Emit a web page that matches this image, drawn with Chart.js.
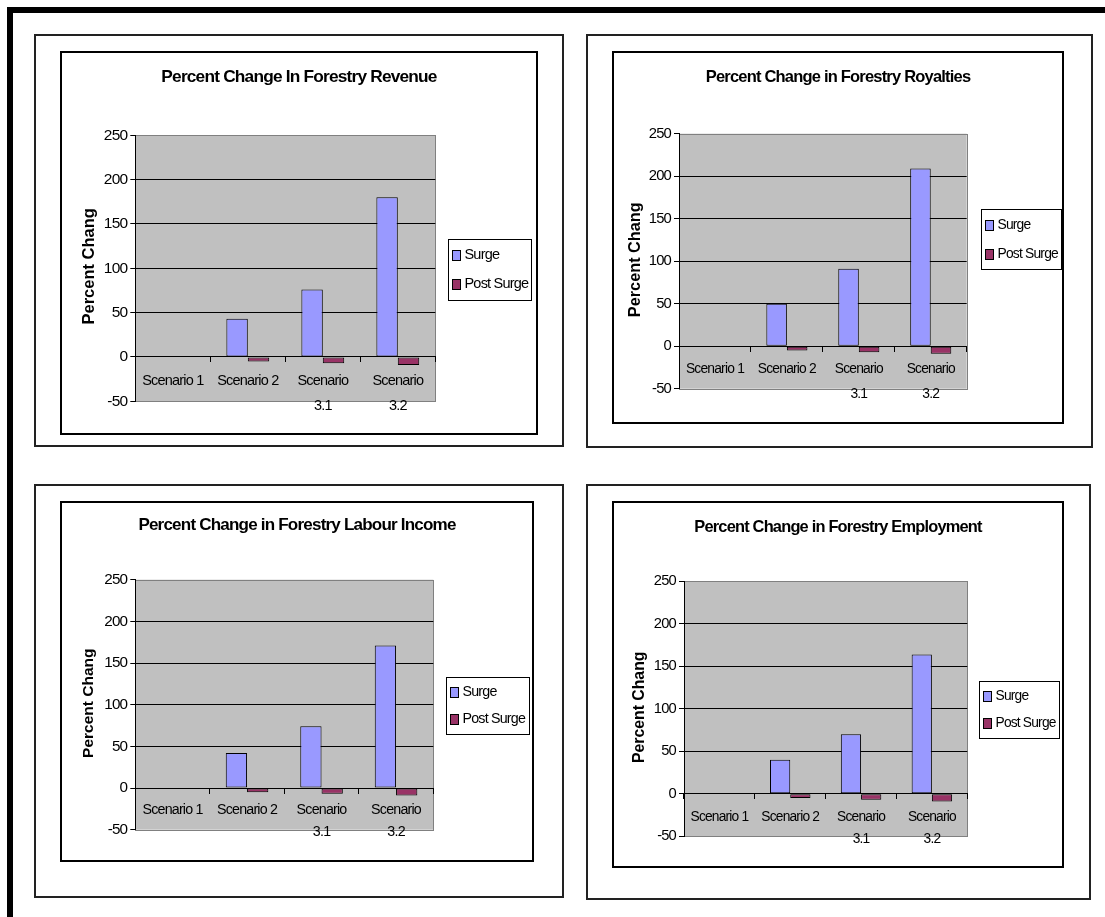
<!DOCTYPE html>
<html>
<head>
<meta charset="utf-8">
<title>Percent Change in Forestry</title>
<script src="https://cdn.jsdelivr.net/npm/chart.js@4.4.0/dist/chart.umd.min.js"></script>
<style>
  html, body { margin: 0; padding: 0; background: #fff; }
  body { width: 1105px; height: 917px; position: relative; overflow: hidden; }
  #frame { position: absolute; left: 7px; top: 7px; width: 1200px; height: 1000px;
           border-top: 6px solid #000; border-left: 6px solid #000; }
  .panel { position: absolute; border: 2px solid #222; }
  .inner { position: absolute; border: 2px solid #000; background: #fff; }
  canvas { display: block; }
</style>
</head>
<body>
<div id="frame"></div>

<div class="panel" style="left:34px;top:34px;width:526px;height:409px"></div>
<div class="panel" style="left:586px;top:34px;width:503px;height:410px"></div>
<div class="panel" style="left:34px;top:484px;width:526px;height:410px"></div>
<div class="panel" style="left:586px;top:484px;width:501px;height:412px"></div>

<div class="inner" style="left:60px;top:51px;width:474px;height:380px"><canvas id="revenueChart" width="474" height="380"></canvas></div>
<div class="inner" style="left:612px;top:51px;width:448px;height:369px"><canvas id="royaltiesChart" width="448" height="369"></canvas></div>
<div class="inner" style="left:60px;top:501px;width:470px;height:357px"><canvas id="labourChart" width="470" height="357"></canvas></div>
<div class="inner" style="left:612px;top:501px;width:448px;height:363px"><canvas id="employmentChart" width="448" height="363"></canvas></div>

<script>
// データ
const categories = ['Scenario 1', 'Scenario 2', ['Scenario', '3.1'], ['Scenario', '3.2']];
const seriesNames = ['Surge', 'Post Surge'];
const yTicks = [-50, 0, 50, 100, 150, 200, 250];
const yTitleText = 'Percent Chang';

const revenueSurge = [0, 43, 76, 180];
const revenuePost = [0, -5, -7, -9];
const royaltiesSurge = [0, 50, 91, 209];
const royaltiesPost = [0, -5, -7, -9];
const labourSurge = [0, 42, 74, 171];
const labourPost = [0, -5, -7, -9];
const employmentSurge = [0, 40, 70, 164];
const employmentPost = [0, -5, -7, -9];

const surgeColor = '#9999FF';
const postColor = '#993366';
const FONT = "'Liberation Sans', Arial, Helvetica, sans-serif";

Chart.defaults.font.family = FONT;
Chart.defaults.color = '#000';

// 詰めた文字間隔（元画像のExcel風）
const tightText = {
    id: 'tightText',
    beforeUpdate(chart) { chart.ctx.letterSpacing = '-0.8px'; },
    beforeDraw(chart) { chart.ctx.letterSpacing = '-0.8px'; }
};

// タイトルはキャンバス全幅の中央に置く（右の余白は凡例用）
const centerTitle = {
    id: 'centerTitle',
    afterLayout(chart) {
        const t = chart.titleBlock;
        if (t) {
            t.left = 0;
            t.right = chart.width;
            t.width = chart.width;
        }
    }
};

// プロットエリアの灰色背景と枠
const plotFrame = {
    id: 'plotFrame',
    beforeDraw(chart) {
        const { ctx, chartArea: a } = chart;
        ctx.save();
        ctx.fillStyle = '#C0C0C0';
        ctx.fillRect(a.left, a.top, a.right - a.left, a.bottom - a.top);
        ctx.strokeStyle = '#808080';
        ctx.lineWidth = 1;
        ctx.strokeRect(Math.round(a.left) + 0.5, Math.round(a.top) + 0.5,
            Math.round(a.right - a.left), Math.round(a.bottom - a.top));
        ctx.restore();
    }
};

// 枠付き凡例
const boxLegend = {
    id: 'boxLegend',
    afterDraw(chart, args, o) {
        const { ctx, chartArea: a } = chart;
        const left = Math.round(a.right + o.dx);
        const top = Math.round((a.top + a.bottom) / 2 + o.dy - o.h / 2);
        ctx.save();
        ctx.fillStyle = '#fff';
        ctx.fillRect(left, top, o.w, o.h);
        ctx.strokeStyle = '#000';
        ctx.lineWidth = 1;
        ctx.strokeRect(left + 0.5, top + 0.5, o.w, o.h);
        ctx.font = o.size + 'px ' + FONT;
        ctx.letterSpacing = '-0.8px';
        ctx.textBaseline = 'middle';
        chart.data.datasets.forEach((ds, i) => {
            const cy = top + o.h * (i === 0 ? 0.27 : 0.745);
            ctx.fillStyle = ds.backgroundColor;
            ctx.fillRect(left + 4.5, Math.round(cy - 5), 8, 10);
            ctx.strokeStyle = '#000';
            ctx.strokeRect(left + 4.5, Math.round(cy - 5) + 0.5, 8, 10);
            ctx.fillStyle = '#000';
            ctx.fillText(ds.label, left + 16.5, cy);
        });
        ctx.restore();
    }
};

// 縦軸タイトル（途中で切れている）
const yTitle = {
    id: 'yTitle',
    afterDraw(chart, args, o) {
        const { ctx, chartArea: a } = chart;
        ctx.save();
        ctx.letterSpacing = '0px';
        ctx.translate(a.left - o.gap, (a.top + a.bottom) / 2 + o.dy);
        ctx.rotate(-Math.PI / 2);
        ctx.font = 'bold ' + o.size + 'px ' + FONT;
        ctx.fillStyle = '#000';
        ctx.textAlign = 'center';
        ctx.textBaseline = 'alphabetic';
        ctx.fillText(yTitleText, 0, 0);
        ctx.restore();
    }
};

const panels = [
    { id: 'revenueChart', title: 'Percent Change In Forestry Revenue', surge: revenueSurge, post: revenuePost,
      w: 474, h: 380, plot: [73.3, 82.3, 373.3, 348.3], titleY: 24, titleSize: 17.3, k: 1.0,
      xPad: 6.35, xLine: 25.3, legend: { dx: 13, dy: 0.9, w: 83, h: 61 }, yt: { gap: 41.3, dy: -2, size: 16.5 } },
    { id: 'royaltiesChart', title: 'Percent Change in Forestry Royalties', surge: royaltiesSurge, post: royaltiesPost,
      w: 448, h: 369, plot: [65, 80.7, 352.7, 335.7], titleY: 24.3, titleSize: 16.5, k: 0.955,
      xPad: 5.9, xLine: 25, legend: { dx: 14.3, dy: -22.5, w: 80, h: 60 }, yt: { gap: 38.7, dy: -1.5, size: 16.3 } },
    { id: 'labourChart', title: 'Percent Change in Forestry Labour Income', surge: labourSurge, post: labourPost,
      w: 470, h: 357, plot: [73.3, 76.7, 371.3, 326.7], titleY: 22.7, titleSize: 17.05, k: 0.985,
      xPad: 6.3, xLine: 22, legend: { dx: 12.4, dy: 1, w: 83, h: 57 }, yt: { gap: 42, dy: -1.5, size: 15.5 } },
    { id: 'employmentChart', title: 'Percent Change in Forestry Employment', surge: employmentSurge, post: employmentPost,
      w: 448, h: 363, plot: [70, 78.3, 353.3, 333.3], titleY: 24, titleSize: 16.4, k: 0.95,
      xPad: 7.45, xLine: 21.7, legend: { dx: 12, dy: 0.5, w: 80, h: 57 }, yt: { gap: 39.7, dy: -1.5, size: 15.8 } }
];

panels.forEach(p => {
    const [pl, pt, pr, pb] = p.plot;
    const lh = p.titleSize * 1.2;
    new Chart(document.getElementById(p.id), {
        type: 'bar',
        data: {
            labels: categories,
            datasets: [
                { label: seriesNames[0], data: p.surge, backgroundColor: surgeColor },
                { label: seriesNames[1], data: p.post, backgroundColor: postColor }
            ]
        },
        options: {
            responsive: false,
            animation: false,
            events: [],
            datasets: {
                bar: {
                    borderColor: '#000',
                    borderWidth: 1,
                    borderSkipped: false,
                    barPercentage: 1,
                    categoryPercentage: 0.5714
                }
            },
            layout: { padding: { top: 0, left: 0, right: p.w - pr, bottom: p.h - pb } },
            scales: {
                x: {
                    type: 'category',
                    position: { y: 0 },
                    offset: true,
                    grid: { offset: true, drawOnChartArea: false, drawTicks: true, tickLength: 5,
                            color: '#000', tickColor: '#000' },
                    border: { display: true, color: '#000', width: 1 },
                    ticks: { maxRotation: 0, minRotation: 0, autoSkip: false, padding: p.xPad,
                             font: { size: 14.5 * p.k, lineHeight: p.xLine + 'px' } }
                },
                y: {
                    min: yTicks[0],
                    max: yTicks[yTicks.length - 1],
                    ticks: { stepSize: yTicks[1] - yTicks[0], padding: 3, font: { size: 15.5 * p.k } },
                    grid: {
                        color: c => (c.tick && (c.tick.value === yTicks[0] || c.tick.value === yTicks[yTicks.length - 1]))
                            ? 'rgba(0,0,0,0)' : '#000',
                        tickColor: '#000',
                        tickLength: 5
                    },
                    border: { display: true, color: '#000', width: 1 },
                    afterFit: s => { s.width = pl; }
                }
            },
            plugins: {
                legend: { display: false },
                tooltip: { enabled: false },
                title: {
                    display: true,
                    text: p.title,
                    font: { size: p.titleSize, weight: 'bold', lineHeight: 1.2 },
                    padding: { top: p.titleY - lh / 2, bottom: pt - p.titleY - lh / 2 }
                },
                boxLegend: { dx: p.legend.dx, dy: p.legend.dy, w: p.legend.w, h: p.legend.h, size: 14.5 * p.k },
                yTitle: p.yt
            }
        },
        plugins: [tightText, centerTitle, plotFrame, boxLegend, yTitle]
    });
});
</script>
</body>
</html>
